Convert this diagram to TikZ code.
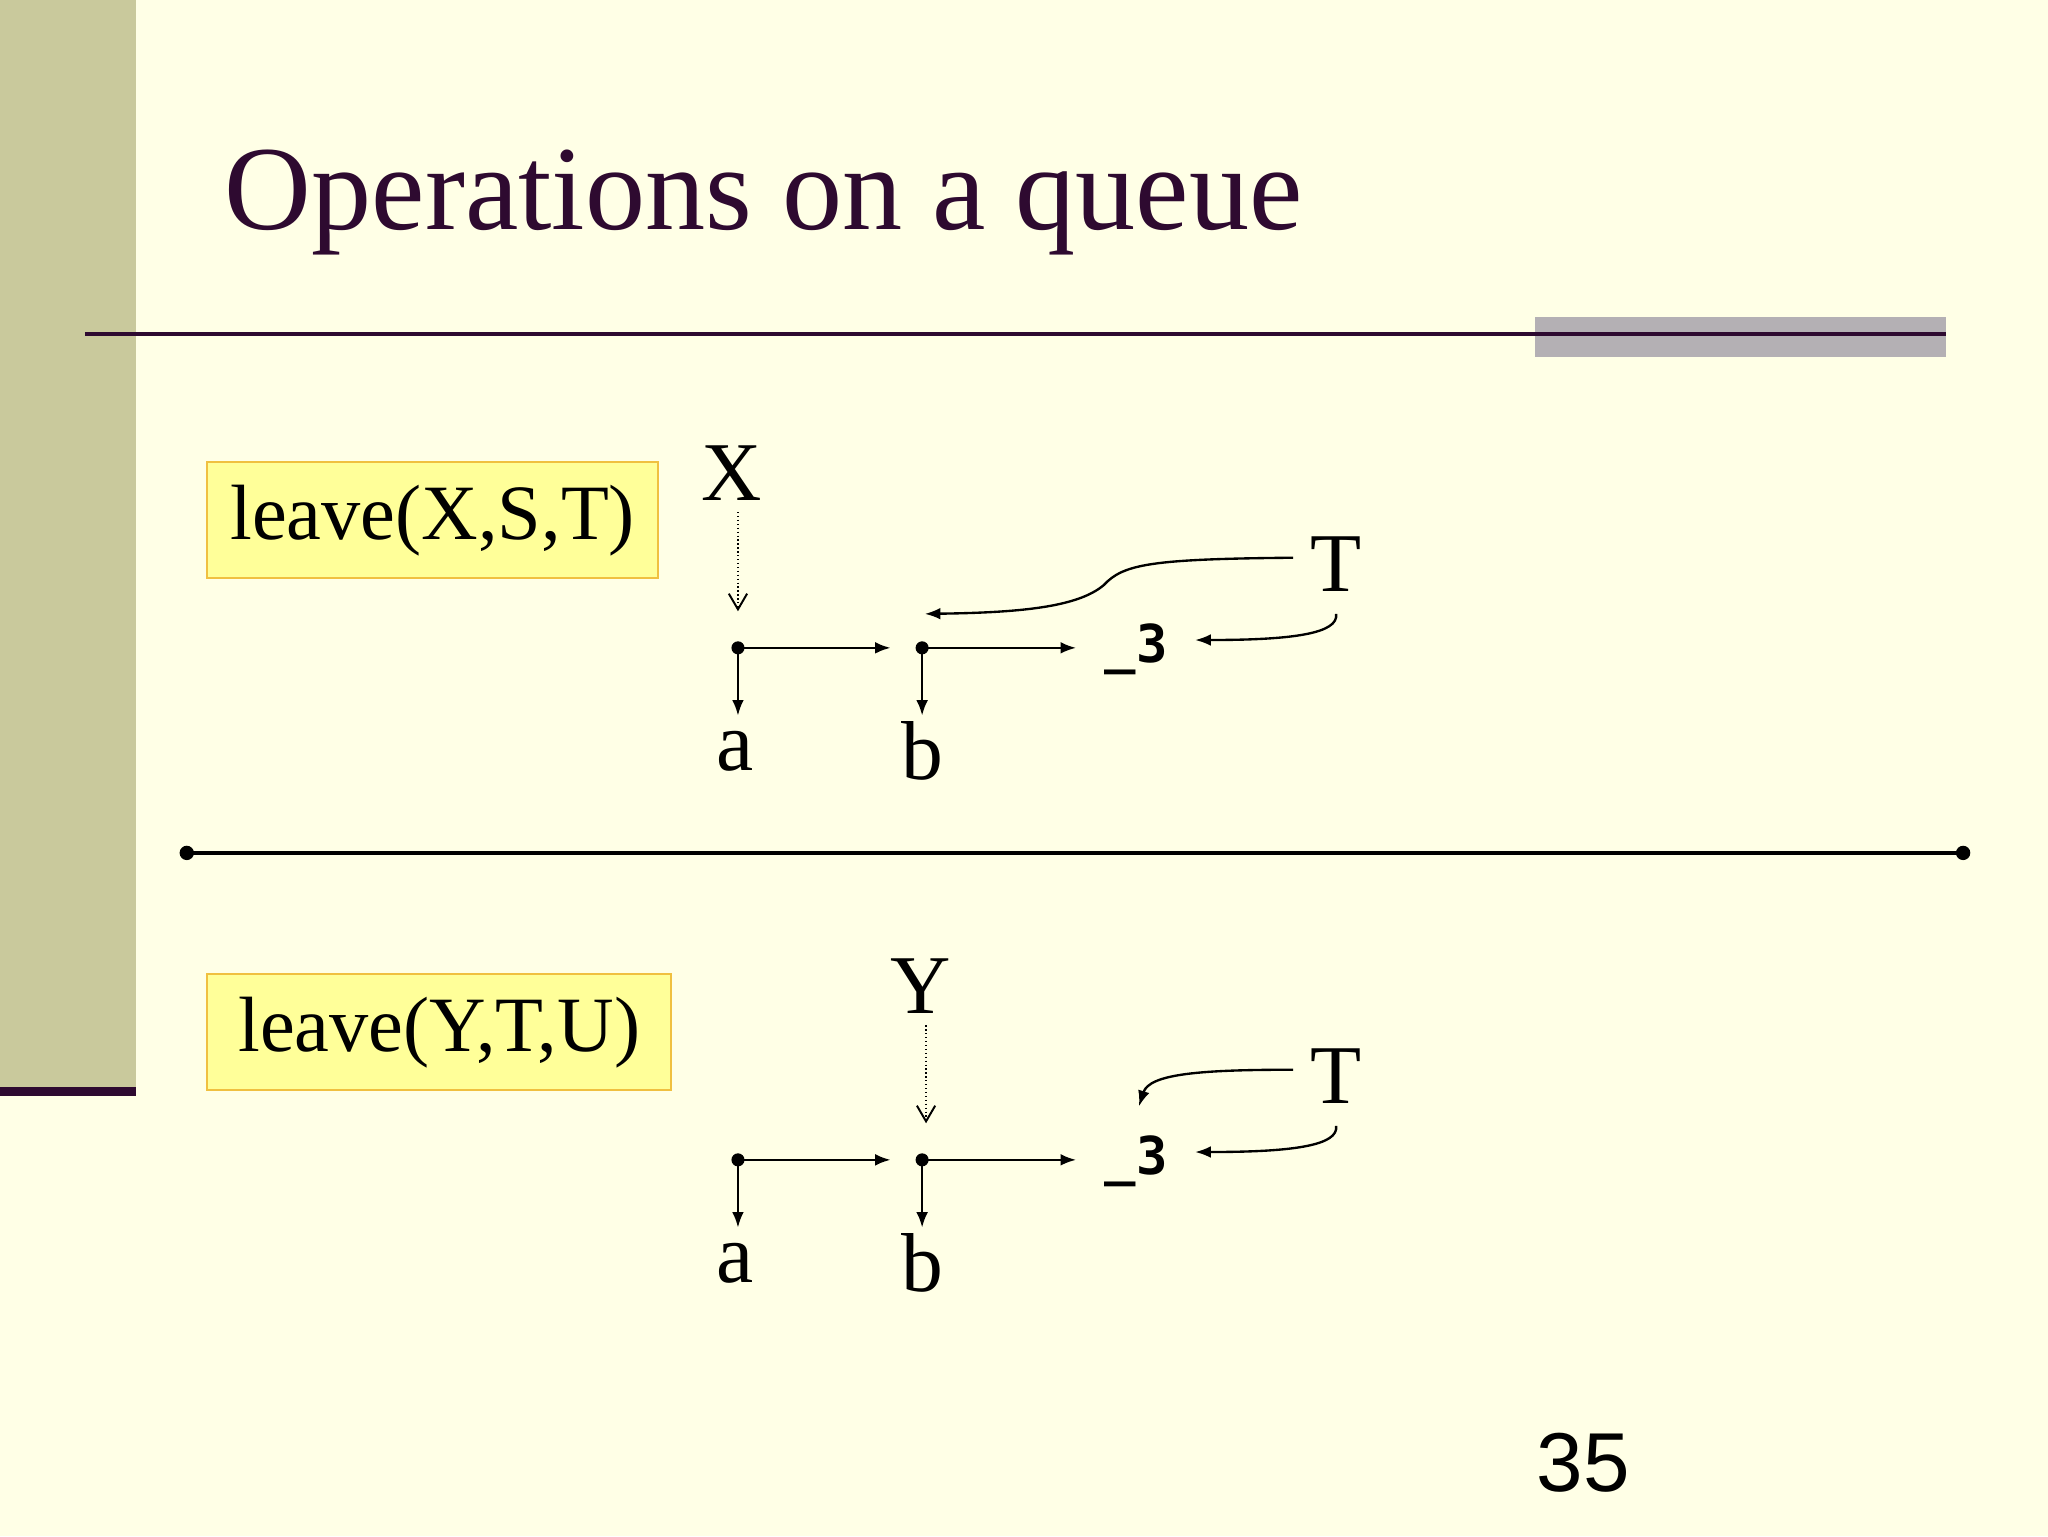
\documentclass[tikz,border=0pt]{standalone}
\usepackage{fontspec}
\setmainfont{Liberation Serif}
\newfontfamily\sansf{Liberation Sans}
\newfontfamily\monof{DejaVu Sans Mono}
\usetikzlibrary{arrows.meta}
\definecolor{bg}{HTML}{FFFFE6}
\definecolor{bar}{HTML}{C9C99C}
\definecolor{dpurp}{HTML}{2E0A30}
\definecolor{gbar}{HTML}{B4B0B4}
\definecolor{ybox}{HTML}{FFFF99}
\definecolor{ybord}{HTML}{F0C040}
\tikzset{
 lbl/.style={inner sep=0pt,font=\fontsize{64}{64}\selectfont},
 opbox/.style={draw=ybord,line width=1.5pt,fill=ybox,inner sep=0pt,anchor=north west,font=\fontsize{62}{62}\selectfont},
 ptr/.style={line width=2pt,-{Latex[length=12pt,width=9pt]}},
 dptr/.style={line width=1pt,dotted,-{Straight Barb[length=12pt,width=14pt,line width=1.5pt]}},
 cptr/.style={line width=1.8pt,-{Latex[length=12pt,width=9pt]}},
 dotn/.style={circle,fill=black,inner sep=0pt,minimum size=11pt},
 three/.style={inner sep=0pt,font=\monof\bfseries\fontsize{40}{40}\selectfont}
}
\begin{document}
\begin{tikzpicture}[x=1pt,y=-1pt]
\useasboundingbox (0,0) rectangle (1568,1176);
\fill[bg] (0,0) rectangle (1568,1176);
\fill[bar] (0,0) rectangle (104,835);
\fill[dpurp] (0,832) rectangle (104,839);
\fill[gbar] (1175,243) rectangle (1490,273);
\draw[dpurp,line width=3pt] (65,256) -- (1490,256);
\node[anchor=west,inner sep=0pt,text=dpurp,font=\fontsize{92}{92}\selectfont] (title) at (172,155) {Operations on a queue};
% boxes
\node[opbox,minimum width=345pt,minimum height=89pt] (b1) at (158,353) {};
\node[lbl,font=\fontsize{60}{60}\selectfont] (b1t) at (b1.center) {leave(X,S,T)};
\node[opbox,minimum width=355pt,minimum height=89pt] (b2) at (158,745) {};
\node[lbl,font=\fontsize{60}{60}\selectfont] (b2t) at (b2.center) {leave(Y,T,U)};
% divider
\node[dotn] (dl) at (143,653) {};
\node[dotn] (dr) at (1503,653) {};
\draw[line width=2.5pt] (dl.center) -- (dr.center);
% top diagram
\node[lbl] (X) at (560,362) {X};
\node[dotn,minimum size=10pt] (n1) at (565,496) {};
\node[dotn,minimum size=10pt] (n2) at (706,496) {};
\node[three] (e1) at (870,497) {\_3};
\node[lbl] (a1) at (563,575) {a};
\node[lbl] (bb1) at (706,575) {b};
\node[lbl] (T1) at (1023,432) {T};
\coordinate (x1) at (565,468);
\coordinate (p1) at (682,496);
\coordinate (p2) at (824,496);
\coordinate (ad1) at (565,548);
\coordinate (bd1) at (706,548);
\coordinate (t1s) at (990,427);
\coordinate (t1e) at (708,470);
\coordinate (t1b) at (1023,470);
\coordinate (t1f) at (915,490);
\draw[dptr] (565,392) -- (x1);
\draw[ptr] (n1.center) -- (p1);
\draw[ptr] (n2.center) -- (p2);
\draw[ptr] (n1.center) -- (ad1);
\draw[ptr] (n2.center) -- (bd1);
\draw[cptr] (t1s) .. controls (880,428) and (860,432) .. (845,448) .. controls (825,465) and (780,469) .. (t1e);
\draw[cptr] (t1b) .. controls (1025,485) and (990,490) .. (t1f);
% bottom diagram
\node[lbl] (Y) at (705,755) {Y};
\node[dotn,minimum size=10pt] (m1) at (565,888) {};
\node[dotn,minimum size=10pt] (m2) at (706,888) {};
\node[three] (e2) at (870,889) {\_3};
\node[lbl] (a2) at (563,967) {a};
\node[lbl] (bb2) at (706,967) {b};
\node[lbl] (T2) at (1023,824) {T};
\coordinate (y1) at (709,860);
\coordinate (q1) at (682,888);
\coordinate (q2) at (824,888);
\coordinate (ad2) at (565,940);
\coordinate (bd2) at (706,940);
\coordinate (t2s) at (990,819);
\coordinate (t2e) at (872,847);
\coordinate (t2b) at (1023,862);
\coordinate (t2f) at (915,882);
\draw[dptr] (709,785) -- (y1);
\draw[ptr] (m1.center) -- (q1);
\draw[ptr] (m2.center) -- (q2);
\draw[ptr] (m1.center) -- (ad2);
\draw[ptr] (m2.center) -- (bd2);
\draw[cptr] (t2s) .. controls (920,819) and (880,822) .. (t2e);
\draw[cptr] (t2b) .. controls (1025,877) and (990,882) .. (t2f);
\node[inner sep=0pt,font=\sansf\fontsize{64}{64}\selectfont] (pg) at (1212,1120) {35};
\end{tikzpicture}
\end{document}
